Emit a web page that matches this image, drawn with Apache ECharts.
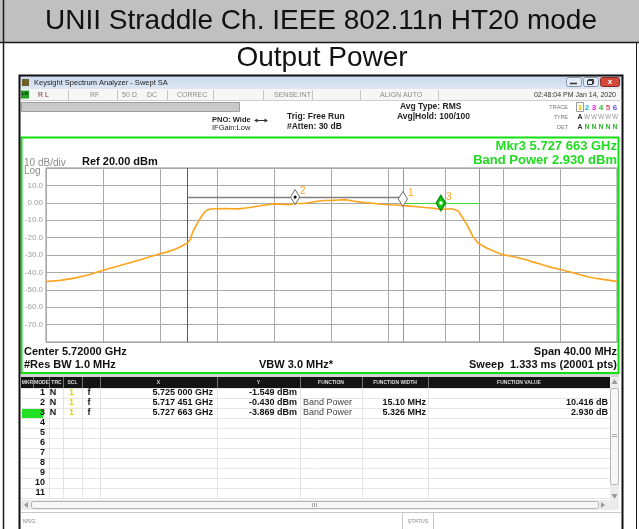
<!DOCTYPE html>
<html><head><meta charset="utf-8">
<script src="https://cdn.jsdelivr.net/npm/echarts@6/dist/echarts.min.js"></script>
<style>html,body{margin:0;padding:0;background:#fff}#c{width:639px;height:529px}</style>
</head><body><div id="c"></div>
<script>
// ---------------- DATA ----------------
const freqMHz = [5700,5701,5702,5703,5704,5705,5706,5707,5708,5708.5,5709,5709.5,5709.9,5710.1,5710.3,5710.55,5710.8,5711.0,5711.2,5711.5,5712,5712.5,5713,5713.5,5714,5714.5,5715,5715.5,5716,5716.5,5717,5717.45,5718,5718.5,5719,5719.5,5720,5720.5,5721,5721.5,5722,5722.5,5723,5723.5,5724,5724.5,5725,5725.5,5726,5726.5,5727,5727.66,5728,5728.5,5728.9,5729.2,5729.55,5729.9,5730.26,5730.86,5731.5,5732,5732.5,5733,5733.5,5734,5734.5,5735,5735.5,5736,5736.5,5737,5737.5,5738,5738.5,5739,5739.5,5740];
const levelDbm = [-45.2,-44.6,-43.3,-41.4,-38.8,-36.5,-34.2,-31.7,-29.3,-28.2,-26.8,-25.0,-23.1,-21.2,-16.4,-12.6,-9.0,-6.6,-4.6,-3.6,-3.4,-3.3,-3.4,-3.5,-3.0,-2.4,-1.7,-1.1,-0.6,-0.8,-1.1,-0.43,-0.4,0.2,0.9,1.3,1.4,1.6,1.8,1.0,0.4,0.0,-0.4,-0.8,-1.1,-1.3,-1.55,-1.9,-2.3,-2.7,-3.0,-3.87,-3.6,-3.6,-4.9,-8.7,-13.6,-19.3,-23.1,-26.0,-28.3,-29.8,-30.6,-31.4,-32.5,-33.8,-34.9,-36.2,-37.4,-38.2,-39.3,-40.4,-41.5,-42.6,-43.4,-44.0,-44.6,-45.2];
const yTickValues = [10,0,-10,-20,-30,-40,-50,-60,-70];
const yTickText = ['10.0','0.00','-10.0','-20.0','-30.0','-40.0','-50.0','-60.0','-70.0'];
const markerNum = [1,2,3];
const markerFreqMHz = [5725.000,5717.451,5727.663];
const markerLevel = [-1.549,-0.430,-3.869];
const markerMode = ['N','N','N'];
const markerTrace = ['1','1','1'];
const markerScale = ['f','f','f'];
const markerFunc = ['','Band Power','Band Power'];
const markerFuncWidthMHz = [0,15.10,5.326];
const markerFuncValueDb = [null,10.416,2.930];
const tableRowCount = 11;

// ---------------- HELPERS ----------------
const FONT = '"Liberation Sans", Arial, Helvetica, sans-serif';
const G = [];
function R(x,y,w,h,fill,stroke,lw,r){G.push({type:'rect',z:10,silent:true,shape:{x:x,y:y,width:w,height:h,r:r||0},style:{fill:fill||'none',stroke:stroke||'none',lineWidth:lw||1}});}
function L(x1,y1,x2,y2,c,lw){G.push({type:'line',z:11,silent:true,shape:{x1:x1,y1:y1,x2:x2,y2:y2},style:{stroke:c,lineWidth:lw||1}});}
function P(pts,fill){G.push({type:'polygon',z:11,silent:true,shape:{points:pts},style:{fill:fill}});}
function T(x,y,s,size,fill,align,weight){G.push({type:'text',z:12,silent:true,x:x,y:y,style:{text:s,font:(weight||'normal')+' '+size+'px '+FONT,fill:fill,textAlign:align||'left',textVerticalAlign:'middle',align:align||'left',verticalAlign:'middle'}});}

// page table
R(0,0,639,42,'#c0c0c0');
L(0,42.5,639,42.5,'#1a1a1a',1.5);
L(3.5,0,3.5,529,'#1a1a1a',1.5);
L(636.5,42,636.5,529,'#1a1a1a',1);
T(321,21,'UNII Straddle Ch. IEEE 802.11n HT20 mode',28,'#111','center');
T(322,58,'Output Power',28,'#111','center');

// window title bar
R(20,76,602,13,new echarts.graphic.LinearGradient(0,0,0,1,[{offset:0,color:'#c9d9ee'},{offset:1,color:'#dde7f3'}]));
R(22,79,7,7,'#6d5f2a');
T(34,83,'Keysight Spectrum Analyzer - Swept SA',7.5,'#222');
R(566.5,77.5,15,9,'#e3ebf5','#8797b0',1,2); L(570,83.5,577,83.5,'#333',1.5);
R(583.5,77.5,15,9,'#e3ebf5','#8797b0',1,2); R(588.5,79.5,5,4,'none','#333',1); R(587.5,80.5,5,4,'#e3ebf5','#333',1);
R(600.5,77.5,19,9,'#d5493b','#8a2a20',1,2); T(610,82,'x',8,'#fff','center','bold');
// status row
R(20,89,602,11,'#f6f6f6');
L(20,100.5,622,100.5,'#cfcfcf',1);
R(21,90.5,8,8,'#22a322'); T(25,94.5,'LXI',3.5,'#000','center','bold');
T(38,95,'R L',7,'#6b3030');
T(90,95,'RF',7,'#8a8a8a'); T(122,95,'50 \u03A9',7,'#8a8a8a'); T(147,95,'DC',7,'#8a8a8a');
T(177,95,'CORREC',7,'#8a8a8a'); T(274,95,'SENSE:INT',7,'#8a8a8a'); T(380,95,'ALIGN AUTO',7,'#8a8a8a');
T(616,95,'02:48:04 PM Jan 14, 2020',7,'#333','right');
[68,117,167,213,263,312,360,438].forEach(x=>L(x+0.5,90,x+0.5,100,'#c4c4c4',1));
// gray bar
R(21.5,102.5,218,9,'#c9c9c9','#9d9d9d',1);
// info texts
T(212,120,'PNO: Wide',7.5,'#222','left','bold');
L(255,120.5,267,120.5,'#333',1); P([[254,120.5],[257.5,118.5],[257.5,122.5]],'#333'); P([[268,120.5],[264.5,118.5],[264.5,122.5]],'#333');
T(212,127.5,'IFGain:Low',7.5,'#222','left');
T(287,117,'Trig: Free Run',8.5,'#222','left','bold');
T(287,127,'#Atten: 30 dB',8.5,'#222','left','bold');
T(400,107,'Avg Type: RMS',8.5,'#222','left','bold');
T(397,117,'Avg|Hold: 100/100',8.5,'#222','left','bold');
T(568,107,'TRACE',5.5,'#777','right'); T(568,117,'TYPE',5.5,'#777','right'); T(568,127,'DET',5.5,'#777','right');
R(576.5,102.5,7,9,'none','#9a9a9a',1);
const traceCols = ['#e0cc00','#10b8e0','#e020e0','#30c030','#e04c7c','#6050e0'];
['1','2','3','4','5','6'].forEach((d,i)=>T(580+7*i,107.5,d,8,traceCols[i],'center','bold'));
T(580,117.5,'A',7,'#333','center','bold');
for(let i=1;i<6;i++) T(580+7*i,117.5,'W',6.5,'#999','center');
T(580,127.5,'A',7,'#333','center','bold');
for(let i=1;i<6;i++) T(580+7*i,127.5,'N',7,'#30b030','center','bold');

// green frame & plot annotations
R(21.5,137.5,597,235.5,'none','#10e010',2);
T(617,146,'Mkr3 5.727 663 GHz',13,'#20dc20','right','bold');
T(617,160.5,'Band Power 2.930 dBm',13,'#20dc20','right','bold');
T(24,163,'10 dB/div',10,'#8c8c8c');
T(82,162,'Ref 20.00 dBm',11,'#111','left','bold');
T(24,171.5,'Log',10,'#8c8c8c');
T(24,352,'Center 5.72000 GHz',11,'#111','left','bold');
T(24,365,'#Res BW 1.0 MHz',11,'#111','left','bold');
T(259,365,'VBW 3.0 MHz*',11,'#111','left','bold');
T(617,352,'Span 40.00 MHz',11,'#111','right','bold');
T(617,365,'Sweep  1.333 ms (20001 pts)',11,'#111','right','bold');

// marker table
R(21,374,598,3,'#d4d4d4');
R(21,377,589,11,'#141414');
[33,49,63,82,100,217,300,362,428].forEach(x=>L(x+0.5,377,x+0.5,388,'#707070',1));
const hdr = [['MKR',27.5],['MODE',41.5],['TRC',56.5],['SCL',72.5],['X',158.5],['Y',258.5],['FUNCTION',331],['FUNCTION WIDTH',395],['FUNCTION VALUE',519]];
hdr.forEach(h=>T(h[1],382.5,h[0],5,'#dcdcdc','center','bold'));
const rowTop = 388, rowH = 10;
for(let i=0;i<=tableRowCount;i++) L(21,rowTop+i*rowH+0.5,610,rowTop+i*rowH+0.5,'#e6e6e6',1);
[49,63,82,100,217,300,362,428].forEach(x=>L(x+0.5,rowTop,x+0.5,rowTop+tableRowCount*rowH,'#e2e2e2',1));
const fmtGHz = f => { const s=(f/1000).toFixed(6); return s.slice(0,5)+' '+s.slice(5)+' GHz'; };
for(let i=0;i<tableRowCount;i++){
  const cy = rowTop + i*rowH + 5;
  if(i===2) R(22,rowTop+i*rowH+1,21,9,'#22e022');
  T(45,cy,String(i+1),9,'#111','right','bold');
  if(i<markerNum.length){
    T(53,cy,markerMode[i],9,'#111','center','bold');
    T(71.5,cy,markerTrace[i],9,'#e6d200','center','bold');
    T(89,cy,markerScale[i],9,'#111','center','bold');
    T(213,cy,fmtGHz(markerFreqMHz[i]),9,'#111','right','bold');
    T(297,cy,markerLevel[i].toFixed(3)+' dBm',9,'#111','right','bold');
    if(markerFunc[i]) T(303,cy,markerFunc[i],9,'#444','left');
    if(markerFuncWidthMHz[i]) T(426,cy,markerFuncWidthMHz[i].toPrecision(4)+' MHz',9,'#111','right','bold');
    if(markerFuncValueDb[i]!==null) T(608,cy,markerFuncValueDb[i].toFixed(3)+' dB',9,'#111','right','bold');
  }
}
// scrollbars
R(610,377,9,123,'#ececec'); R(610.5,388.5,8,96,'#f7f7f7','#b4b4b4',1,2);
P([[614.5,379],[611.5,384],[617.5,384]],'#9a9a9a'); P([[614.5,499],[611.5,494],[617.5,494]],'#9a9a9a');
L(612,434.5,617,434.5,'#aaa',1); L(612,436.5,617,436.5,'#aaa',1);
R(21,500,598,10,'#ececec'); R(31.5,501.5,567,7,'#f7f7f7','#b4b4b4',1,2);
P([[24,505],[28,502],[28,508]],'#9a9a9a'); P([[605,505],[601,502],[601,508]],'#9a9a9a');
L(312.5,503,312.5,507,'#aaa',1); L(314.5,503,314.5,507,'#aaa',1); L(316.5,503,316.5,507,'#aaa',1);
// msg bar
L(21,512.5,621,512.5,'#c8c8c8',1);
T(23,521,'MSG',5.5,'#888');
L(402.5,513,402.5,529,'#c8c8c8',1); L(433.5,513,433.5,529,'#c8c8c8',1);
T(418,521,'STATUS',5.5,'#888','center');
// window border
R(19.5,75.5,603,460,'none','#111',2);

// ---------------- CHART ----------------
const traceData = freqMHz.map((f,i)=>[f,levelDbm[i]]);
const bandData = [];
markerNum.forEach((n,i)=>{ if(markerFuncWidthMHz[i]>0){ bandData.push([markerFreqMHz[i]-markerFuncWidthMHz[i]/2, markerFreqMHz[i]+markerFuncWidthMHz[i]/2, markerLevel[i], n===3?1:0]); }});
const markerData = markerNum.map((n,i)=>[markerFreqMHz[i],markerLevel[i],n]);

function renderBand(params, api){
  const a = api.coord([api.value(0), api.value(2)]);
  const b = api.coord([api.value(1), api.value(2)]);
  const cs = params.coordSys;
  const act = api.value(3) === 1;
  const vcol = act ? '#38dc38' : '#5a5a5a';
  const x1 = Math.round(a[0])+0.5, x2 = Math.round(b[0])+0.5;
  const hy = Math.round(a[1]+1-7.5)+0.5;
  return {type:'group', children:[
    {type:'line', shape:{x1:x1,y1:cs.y,x2:x1,y2:cs.y+cs.height}, style:{stroke:vcol,lineWidth:1}},
    {type:'line', shape:{x1:x2,y1:cs.y,x2:x2,y2:cs.y+cs.height}, style:{stroke:vcol,lineWidth:1}},
    {type:'line', shape:{x1:x1,y1:hy,x2:x2,y2:hy}, style:{stroke:act?'#38dc38':'#808080',lineWidth:act?1.2:1.6}}
  ]};
}
function renderMarker(params, api){
  const p = api.coord([api.value(0), api.value(1)]);
  const n = api.value(2);
  const x = p[0], yb = p[1]+1, yc = yb-7.5, yt = yb-15;
  const act = n === 3;
  const ch = [{type:'polygon', shape:{points:[[x,yt],[x+4.6,yc],[x,yb],[x-4.6,yc]]}, style:{fill:act?'#14d014':'#fff', stroke:act?'#0b8f0b':'#6c6c6c', lineWidth:act?1.5:1}}];
  if(n===2) ch.push({type:'circle', shape:{cx:x,cy:yc,r:1.6}, style:{fill:'#111'}});
  if(act) ch.push({type:'circle', shape:{cx:x,cy:yc,r:1.8}, style:{fill:'#fff'}});
  ch.push({type:'text', style:{text:String(n), x:x+5, y:yt+1.5, fill:'#ffa31a', font:'10px '+FONT, textAlign:'left', textVerticalAlign:'middle', align:'left', verticalAlign:'middle'}});
  return {type:'group', children:ch};
}

const chart = echarts.init(document.getElementById('c'), null, {renderer:'canvas', width:639, height:529});
chart.setOption({
  backgroundColor:'#ffffff',
  animation:false,
  grid:{left:46, top:168, width:571, height:174, show:true, backgroundColor:'#fff', borderColor:'#8a8a8a', borderWidth:1, containLabel:false, outerBoundsMode:'none'},
  xAxis:{type:'value', min:5700, max:5740, interval:4, axisLine:{show:false}, axisTick:{show:false}, axisLabel:{show:false}, splitLine:{show:true, lineStyle:{color:'#a9a9a9', width:1}}},
  yAxis:{type:'value', min:-80, max:20, interval:10, axisLine:{show:false}, axisTick:{show:false},
    axisLabel:{show:true, margin:3, color:'#9c9c9c', fontSize:8, fontFamily:FONT, formatter:function(v){const i=yTickValues.indexOf(Math.round(v)); return i>=0?yTickText[i]:'';}},
    splitLine:{show:true, lineStyle:{color:'#a9a9a9', width:1}}},
  series:[
    {type:'line', data:traceData, showSymbol:false, symbol:'none', lineStyle:{color:'#ffa31a', width:1.6}, z:3, silent:true},
    {type:'custom', data:bandData, renderItem:renderBand, encode:{x:[0,1], y:2}, z:2, silent:true},
    {type:'custom', data:markerData, renderItem:renderMarker, encode:{x:0, y:1}, z:5, silent:true}
  ],
  graphic:{elements:G}
});
</script></body></html>
